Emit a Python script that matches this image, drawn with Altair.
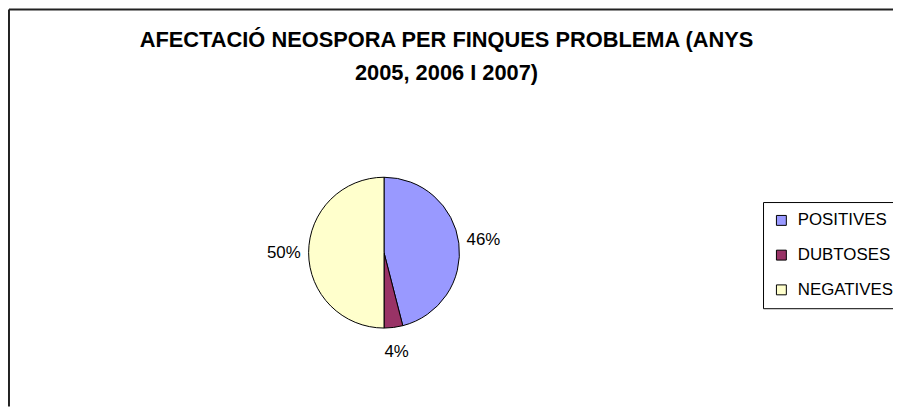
import altair as alt
import pandas as pd

categories = ["POSITIVES", "DUBTOSES", "NEGATIVES"]
values = [46, 4, 50]
labels = ["46%", "4%", "50%"]
colors = ["#9999FF", "#993366", "#FFFFCC"]
title_lines = ["AFECTACIÓ NEOSPORA PER FINQUES PROBLEMA (ANYS", "2005, 2006 I 2007)"]

df = pd.DataFrame({"cat": categories, "value": values, "label": labels, "order": list(range(len(categories)))})
title_df = pd.DataFrame({"t": ["\n".join(title_lines)]})
one = pd.DataFrame({"k": [0]})

FONT = "Liberation Sans"
CX, CY, R = 378, 245, 76

color = alt.Color(
    "cat:N",
    scale=alt.Scale(domain=categories, range=colors),
    legend=alt.Legend(
        title=None, orient="none", legendX=760, legendY=194,
        strokeColor="black", padding=10, symbolType="square", symbolSize=100,
        symbolStrokeColor="black", symbolStrokeWidth=1, labelFontSize=17,
        labelFont=FONT, labelColor="black", rowPadding=17, labelOffset=8,
        fillColor="white",
    ),
)

base = alt.Chart(df).encode(
    theta=alt.Theta("value:Q", stack=True),
    order=alt.Order("order:Q"),
)

pie = base.mark_arc(radius=R, stroke="black", strokeWidth=1).encode(
    color=color, x=alt.value(CX), y=alt.value(CY)
)

lbl = base.mark_text(radius=101, font=FONT, fontSize=17, color="black").encode(
    text="label:N", x=alt.value(CX), y=alt.value(CY)
)

title = alt.Chart(title_df).mark_text(
    font=FONT, fontSize=22, fontWeight="bold", color="black",
    lineBreak="\n", lineHeight=33, baseline="top", align="center",
).encode(text="t:N", x=alt.value(441), y=alt.value(21))

left_rule = alt.Chart(one).mark_rule(color="#222", strokeWidth=2).encode(
    x=alt.value(0), y=alt.value(0), y2=alt.value(400)
)
top_rule = alt.Chart(one).mark_rule(color="#222", strokeWidth=2).encode(
    x=alt.value(0), x2=alt.value(900), y=alt.value(0)
)

chart = alt.layer(left_rule, top_rule, pie, lbl, title).properties(
    width=891, height=400,
    autosize=alt.AutoSizeParams(type="none"),
    padding={"left": 1, "top": 0, "right": 0, "bottom": 0},
    background="white",
).configure_view(stroke=None)

chart.save("out.html", embed_options={"renderer": "svg", "actions": False})
